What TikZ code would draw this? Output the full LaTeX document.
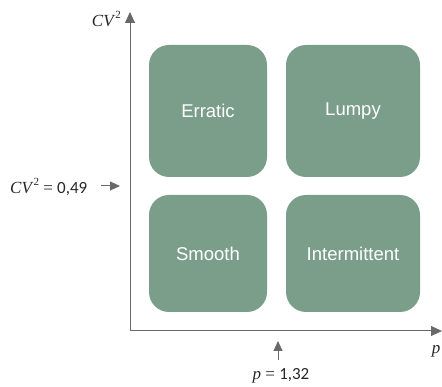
\documentclass[tikz,border=0pt]{standalone}
\usepackage{fontspec}
\setmainfont{Liberation Serif}
\newfontfamily\boxfont{Liberation Sans}
\newfontfamily\numfont{Carlito}
\usetikzlibrary{arrows.meta}
\definecolor{boxgreen}{RGB}{122,158,138}
\definecolor{axisgray}{RGB}{105,105,105}
\tikzset{
  quad/.style={fill=boxgreen, draw=none, rounded corners=20pt},
  quadtext/.style={text=white, font=\boxfont\fontsize{18.5}{22}\selectfont},
  axisline/.style={draw=axisgray, line width=1pt, -{Triangle[length=11pt,width=10pt]}},
  marker/.style={draw=axisgray, line width=1pt, -{Triangle[length=10pt,width=9pt]}},
  lbl/.style={font=\fontsize{17}{20}\selectfont, text=black!85, inner sep=0pt}
}
\newcommand{\cvsym}{\textit{CV}\raisebox{0.45em}{\fontsize{11}{12}\selectfont 2}}
\begin{document}
\begin{tikzpicture}[x=1pt,y=-1pt]
\useasboundingbox (0,0) rectangle (442,387);
% boxes
\fill[quad] (149,45) rectangle (267,177);
\fill[quad] (286,45) rectangle (420,177);
\fill[quad] (149,195) rectangle (267,312);
\fill[quad] (286,195) rectangle (420,312);
\node[quadtext] (erratic) at (208,111) {Erratic};
\node[quadtext] (lumpy) at (353,111) {Lumpy};
\node[quadtext] (smooth) at (208,254) {Smooth};
\node[quadtext] (intermittent) at (353,254) {Intermittent};
% axes
\coordinate (origin) at (130,331);
\coordinate (ytop) at (130,12);
\coordinate (xend) at (442,331);
\draw[axisline] (origin) -- (ytop);
\draw[axisline] (origin) -- (xend);
\node[lbl, anchor=east] (cvlabel) at (121,19) {\cvsym};
\node[lbl] (plabel) at (436,351) {\textit{p}};
% threshold markers
\node[lbl, anchor=west] (cvthr) at (10,187) {\cvsym\ = {\numfont 0,49}};
\coordinate (cvarrS) at (101,186);
\coordinate (cvarrE) at (120,186);
\draw[marker] (cvarrS) -- (cvarrE);
\node[lbl] (pthr) at (281,376) {\textit{p} = {\numfont 1,32}};
\coordinate (parrS) at (278,360);
\coordinate (parrE) at (278,341);
\draw[marker] (parrS) -- (parrE);
\end{tikzpicture}
\end{document}
